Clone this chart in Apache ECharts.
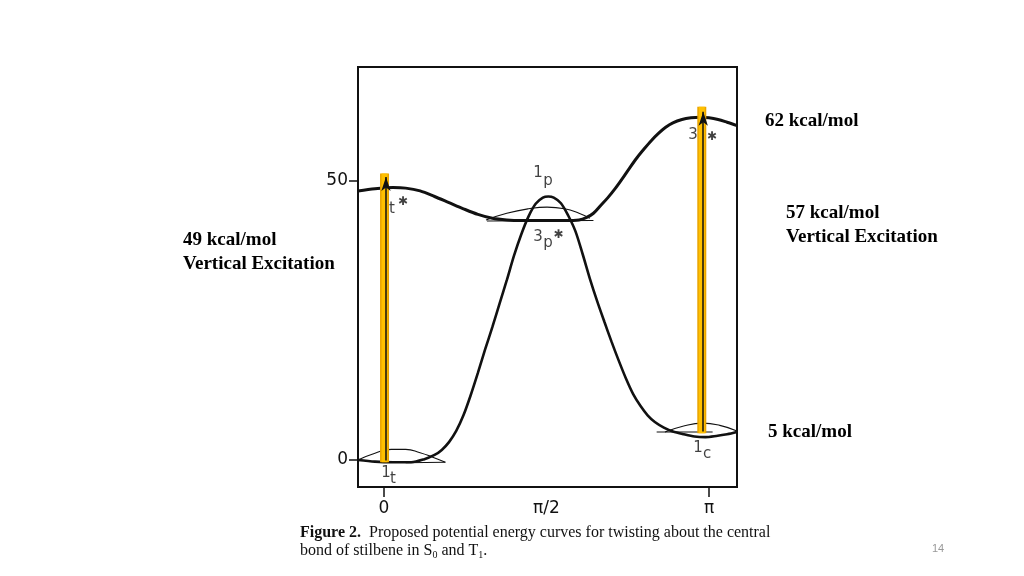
<!DOCTYPE html>
<html><head><meta charset="utf-8">
<script src="https://cdn.jsdelivr.net/npm/echarts@6/dist/echarts.min.js"></script>
<style>html,body{margin:0;padding:0;background:#fff}#c{width:1024px;height:576px}</style>
</head><body><div id="c"></div>
<script>
// Upper curve (excited state)
const upperX = [-14.4, -5, 5, 12, 20, 28, 36, 44, 52, 60, 68, 76, 84, 92, 100, 108, 112, 116, 120, 124, 128, 132, 136, 140, 144, 148, 152, 156, 160, 165, 170, 175, 180, 185, 190, 195.5];
const upperY = [48.2, 48.6, 48.8, 48.7, 48.2, 47.2, 46.1, 45.0, 44.0, 43.3, 43.0, 42.9, 42.9, 42.9, 42.9, 43.0, 43.4, 44.2, 45.6, 47.0, 48.6, 50.4, 52.3, 54.1, 55.7, 57.2, 58.5, 59.6, 60.4, 61.0, 61.3, 61.4, 61.3, 61.0, 60.5, 59.9];
// Lower curve (ground state)
const lowerX = [-14.4, -5, 5, 15, 22, 28, 32, 36, 40, 44, 48, 52, 56, 60, 64, 68, 72, 76, 80, 84, 88, 91, 94, 98, 102, 106, 110, 114, 118, 122, 126, 130, 134, 138, 142, 146, 150, 155, 160, 166, 172, 178, 184, 190, 195.5];
const lowerY = [0, -0.3, -0.4, -0.4, 0.1, 0.9, 1.8, 3.2, 5.2, 8.0, 11.6, 15.6, 19.8, 23.8, 28.0, 32.2, 36.6, 40.4, 43.6, 45.9, 47.0, 47.2, 47.0, 46.0, 43.8, 41.0, 36.9, 32.5, 28.5, 24.8, 21.2, 17.8, 14.6, 11.8, 9.7, 8.0, 6.8, 5.8, 5.1, 4.6, 4.2, 4.1, 4.3, 4.6, 5.0];
// Thin "lens" arcs
const lensLX = [-14.4, -5, 4, 12, 20, 27, 34];
const lensLY = [0, 1.2, 1.9, 1.9, 1.3, 0.5, -0.4];
const lensLBase = [[12, -0.5], [34, -0.4]];
const lensMX = [56.5, 68, 80, 90.3, 100, 108, 114];
const lensMY = [43.0, 44.2, 45.0, 45.3, 45.0, 44.2, 43.3];
const lensMBase = [[57, 42.8], [116, 42.9]];
const lensRX = [155.6, 165, 176.6, 186, 195.5];
const lensRY = [5.0, 6.0, 6.6, 6.2, 5.2];
const lensRBase = [[151, 5.0], [182, 5.0]];
// Vertical excitation bars
const barX = [0.3, 176];
const barLow = [-0.4, 4.8];
const barHigh = [51.3, 63.3];
const arrowTip = [50.7, 62.4];
// Tick labels
const xTickVals = [0, 90, 180];
const xTickText = ['0', 'π/2', 'π'];
const yTickVals = [0, 50];
// In-plot state labels [x, y, text, kind]
const stateLabels = [
  [85.3, 51.4, '1', 'n'], [90.8, 50.0, 'p', 'n'],
  [85.3, 40.0, '3', 'n'], [90.8, 38.9, 'p', 'n'], [96.6, 40.4, '✱', 's'],
  [171.1, 58.2, '3', 'n'], [181.7, 57.9, '✱', 's'],
  [173.9, 2.2, '1', 'n'], [178.9, 1.1, 'c', 'n'],
  [1.1, -2.3, '1', 'n'], [5.0, -3.4, 't', 'n'],
  [4.4, 45.0, 't', 'n'], [10.5, 46.2, '✱', 's']
];

const zip = (xs, ys) => xs.map((x, i) => [x, ys[i]]);
const black = '#111';
const thin = (data, smooth) => ({type: 'line', data: data, smooth: smooth, symbol: 'none', silent: true,
  lineStyle: {color: black, width: 1.1}, z: 3});

const chart = echarts.init(document.getElementById('c'));
const series = [
  {type: 'line', data: zip(upperX, upperY), smooth: 0.3, symbol: 'none', lineStyle: {color: black, width: 3}, z: 4},
  {type: 'line', data: zip(lowerX, lowerY), smooth: 0.3, symbol: 'none', lineStyle: {color: black, width: 2.6}, z: 4},
  thin(zip(lensLX, lensLY), 0.5), thin(lensLBase, false),
  thin(zip(lensMX, lensMY), 0.5), thin(lensMBase, false),
  thin(zip(lensRX, lensRY), 0.5), thin(lensRBase, false)
];
barX.forEach((x, i) => {
  series.push({type: 'line', data: [[x, barLow[i]], [x, barHigh[i]]], symbol: 'none', z: 6,
    lineStyle: {color: '#E9A400', width: 9, cap: 'butt'}});
  series.push({type: 'line', data: [[x, barLow[i]], [x, barHigh[i]]], symbol: 'none', z: 7,
    lineStyle: {color: '#FFC000', width: 6, cap: 'butt'},
    markLine: {silent: true, symbol: ['none', 'arrow'], symbolSize: [7, 14], label: {show: false},
      lineStyle: {color: black, width: 1.5, type: 'solid'}, z: 8,
      data: [[{coord: [x + 0.8, barLow[i] + 0.3]}, {coord: [x + 0.8, arrowTip[i]]}]]}});
});
series.push({type: 'scatter', symbolSize: 0, z: 9, silent: true,
  data: stateLabels.map(d => ({value: [d[0], d[1]], name: d[2],
    label: {show: true, position: 'inside', formatter: d[2],
      fontFamily: 'DejaVu Sans', fontSize: d[3] === 's' ? 12 : 15,
      fontWeight: d[3] === 's' ? 'bold' : 'normal', color: black}}))});

chart.setOption({
  animation: false,
  backgroundColor: '#fff',
  grid: {left: 358, top: 67, width: 379, height: 420, show: true, borderColor: black, borderWidth: 2, backgroundColor: 'transparent'},
  xAxis: {type: 'value', min: -14.4, max: 195.5, splitLine: {show: false}, axisLine: {show: false, onZero: false},
    axisTick: {show: true, inside: false, customValues: [0, 180], length: 10, lineStyle: {color: black, width: 1.5}},
    axisLabel: {customValues: xTickVals, margin: 13, fontFamily: 'DejaVu Sans', fontSize: 17, color: black,
      formatter: v => xTickText[xTickVals.indexOf(v)] || ''}},
  yAxis: {type: 'value', min: -4.84, max: 70.4, splitLine: {show: false}, axisLine: {show: false, onZero: false},
    axisTick: {show: true, inside: false, customValues: yTickVals, length: 9, lineStyle: {color: black, width: 1.5}},
    axisLabel: {customValues: yTickVals, margin: 10, fontFamily: 'DejaVu Sans', fontSize: 17, color: black}},
  series: series,
  graphic: [
    {type: 'text', left: 765, top: 112, style: {text: '62 kcal/mol', font: 'bold 19px "Liberation Serif"', fill: '#000'}},
    {type: 'text', left: 786, top: 201, style: {text: '57 kcal/mol\nVertical Excitation', font: 'bold 19px "Liberation Serif"', lineHeight: 24, fill: '#000'}},
    {type: 'text', left: 183, top: 228, style: {text: '49 kcal/mol\nVertical Excitation', font: 'bold 19px "Liberation Serif"', lineHeight: 24, fill: '#000'}},
    {type: 'text', left: 768, top: 423, style: {text: '5 kcal/mol', font: 'bold 19px "Liberation Serif"', fill: '#000'}},
    {type: 'text', left: 932, top: 543, style: {text: '14', font: '11px "Liberation Sans"', fill: '#999'}},
    {type: 'text', left: 300, top: 524, style: {
      text: '{b|Figure 2.}  Proposed potential energy curves for twisting about the central\nbond of stilbene in S{s|0} and T{s|1}.',
      font: '16px "Liberation Serif"', fill: '#111', lineHeight: 18,
      rich: {b: {font: 'bold 16px "Liberation Serif"', fill: '#111'}, s: {font: '10px "Liberation Serif"', fill: '#111', verticalAlign: 'bottom', padding: [6, 0, 0, 0]}}}}
  ]
});
</script></body></html>
